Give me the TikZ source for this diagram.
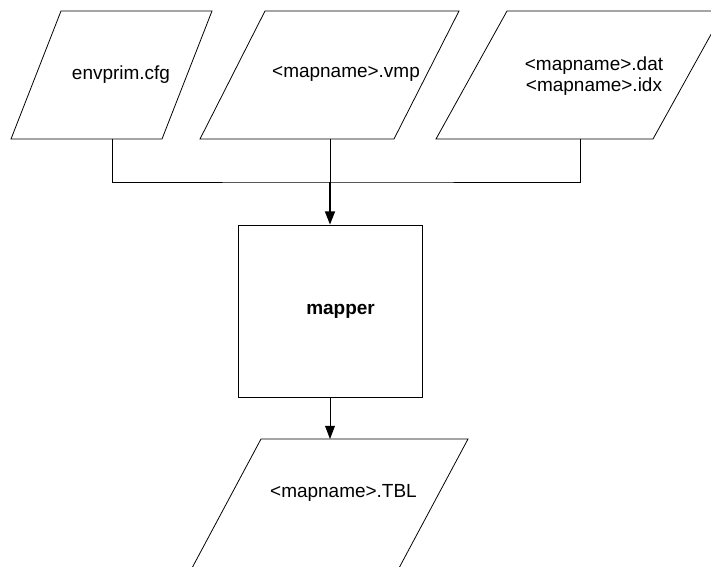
\documentclass[tikz,border=0pt]{standalone}
\usepackage{fontspec}
\setmainfont{Liberation Sans}
\usetikzlibrary{arrows.meta}
\def\datashape[#1](#2,#3)(#4:#5:#6){\draw[#1] (#2,#3) -- ++(#4,0) -- ++({-#6},#5) -- ++({-#4},0) -- cycle;}

\begin{document}
\begin{tikzpicture}[x=0.02cm, y=-0.02cm, line width=0.45pt,
	every node/.style={font=\fontsize{10.8}{12.2}\selectfont, align=center},
	flow/.style={-{Triangle[length=7.5pt,width=5.6pt]}}]
		%%%%% START %%%%%
		\useasboundingbox (0,0) rectangle (711,566);
		\clip (0,0) rectangle (711,566);
		
		% input files
		\datashape[](61,11)(151:128:50)
		\datashape[](265,11)(194:128:65)
		\datashape[](507,11)(217:128:71)
		
		\node (cfg) at (121,75) {envprim.cfg};
		\node (vmp) at (346,74) {<mapname>.vmp};
		\node (dat) at (594,76) {<mapname>.dat\\<mapname>.idx};
		
		\coordinate (cfg-out) at (112,139);
		\coordinate (vmp-out) at (330,139);
		\coordinate (dat-out) at (580,139);
		\coordinate (join) at (330,182);
		
		% program
		\node[draw, inner sep=0pt, minimum width=3.68cm, minimum height=3.44cm,
			font=\fontsize{10.8}{12.2}\selectfont\bfseries] (mapper) at (330,311) {\hspace*{12pt}mapper};
		
		% output file
		\datashape[](261,439)(207:129:69)
		\node (tbl) at (343.5,493) {<mapname>.TBL};
		\coordinate (tbl-in) at (330,439);
		
		\draw (cfg-out) |- (join) -| (dat-out);
		\draw (vmp-out) -- (join);
		\draw[flow, line width=1pt] (join) -- (mapper.north);
		\draw[flow] (mapper.south) -- (tbl-in);
		
		%%%%% END %%%%%
\end{tikzpicture}
\end{document}
